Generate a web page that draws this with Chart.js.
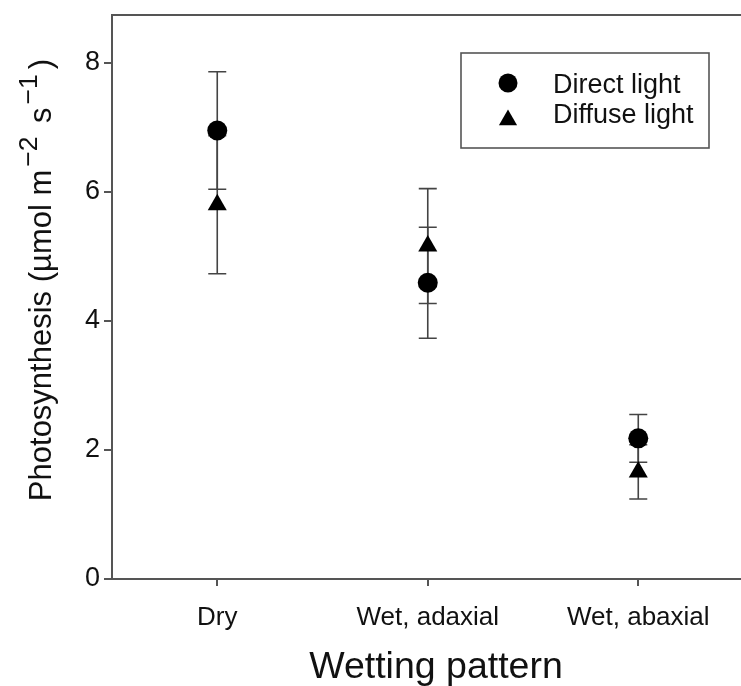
<!DOCTYPE html>
<html lang="en">
<head>
    <meta charset="UTF-8">
    <title>Photosynthesis by wetting pattern</title>
    <script src="https://cdn.jsdelivr.net/npm/chart.js"></script>
    <style>
        body {
            margin: 0;
            background: #ffffff;
        }
        .chart-container {
            width: 741px;
            height: 686px;
        }
    </style>
</head>
<body>
    <div class="chart-container">
        <canvas id="chart" width="741" height="686"></canvas>
    </div>

    <script>
        // Values
        const categories = ['Dry', 'Wet, adaxial', 'Wet, abaxial'];
        const directMean = [6.95, 4.59, 2.18];
        const directErr = [0.91, 0.86, 0.37];
        const diffuseMean = [5.80, 5.16, 1.66];
        const diffuseErr = [1.07, 0.89, 0.42];
        const yTicks = [0, 2, 4, 6, 8];

        const FONT = "'Liberation Sans', Arial, sans-serif";
        const AXIS_COLOR = '#555555';

        // Error bars under the markers, through the chart scales
        const errorBars = {
            id: 'errorBars',
            beforeDatasetsDraw(chart) {
                const ctx = chart.ctx;
                const xs = chart.scales.x;
                const ys = chart.scales.y;
                ctx.save();
                ctx.strokeStyle = '#444444';
                ctx.lineWidth = 1.6;
                chart.data.datasets.forEach(ds => {
                    ds.data.forEach((p, i) => {
                        const e = ds.errors[i];
                        const x = xs.getPixelForValue(p.x);
                        const yTop = ys.getPixelForValue(p.y + e);
                        const yBot = ys.getPixelForValue(p.y - e);
                        ctx.beginPath();
                        ctx.moveTo(x, yTop);
                        ctx.lineTo(x, yBot);
                        ctx.moveTo(x - 9, yTop);
                        ctx.lineTo(x + 9, yTop);
                        ctx.moveTo(x - 9, yBot);
                        ctx.lineTo(x + 9, yBot);
                        ctx.stroke();
                    });
                });
                ctx.restore();
            }
        };

        // Frame top line, axis titles and the boxed legend
        const decorations = {
            id: 'decorations',
            afterDraw(chart) {
                const ctx = chart.ctx;
                const area = chart.chartArea;
                ctx.save();

                // top frame line
                ctx.strokeStyle = AXIS_COLOR;
                ctx.lineWidth = 2;
                ctx.beginPath();
                ctx.moveTo(area.left - 1, area.top);
                ctx.lineTo(chart.width, area.top);
                ctx.stroke();

                // x title
                ctx.fillStyle = '#111111';
                ctx.font = '37.5px ' + FONT;
                ctx.textAlign = 'center';
                ctx.textBaseline = 'alphabetic';
                ctx.fillText('Wetting pattern', 436, 678);

                // y title with superscripts: [text, size, raise, gapAfter]
                const parts = [
                    ['Photosynthesis (\u00b5mol m', 31, 0, 3],
                    ['\u22122', 26.5, 14, 5],
                    [' s', 31, 0, 3],
                    ['\u22121', 26.5, 14, 5],
                    [')', 31, 0, 0]
                ];
                let total = 0;
                parts.forEach(p => {
                    ctx.font = p[1] + 'px ' + FONT;
                    total += ctx.measureText(p[0]).width + p[3];
                });
                ctx.translate(51, 280);
                ctx.rotate(-Math.PI / 2);
                ctx.textAlign = 'left';
                let pos = -total / 2;
                parts.forEach(p => {
                    ctx.font = p[1] + 'px ' + FONT;
                    ctx.fillText(p[0], pos, -p[2]);
                    pos += ctx.measureText(p[0]).width + p[3];
                });
                ctx.setTransform(1, 0, 0, 1, 0, 0);

                // legend
                ctx.strokeStyle = AXIS_COLOR;
                ctx.lineWidth = 1.6;
                ctx.strokeRect(461, 53, 248, 95);
                ctx.fillStyle = '#000000';
                ctx.beginPath();
                ctx.arc(508, 83, 9.5, 0, Math.PI * 2);
                ctx.fill();
                const r = 10.5;
                ctx.beginPath();
                ctx.moveTo(508, 120 - r);
                ctx.lineTo(508 + r * Math.sin(2 * Math.PI / 3), 120 + r / 2);
                ctx.lineTo(508 - r * Math.sin(2 * Math.PI / 3), 120 + r / 2);
                ctx.closePath();
                ctx.fill();
                ctx.fillStyle = '#111111';
                ctx.font = '27px ' + FONT;
                ctx.textAlign = 'left';
                chart.data.datasets.forEach((ds, i) => {
                    ctx.fillText(ds.label, 553, 93 + i * 30);
                });
                ctx.restore();
            }
        };

        const ctx = document.getElementById('chart').getContext('2d');
        const chart = new Chart(ctx, {
            type: 'scatter',
            data: {
                datasets: [
                    {
                        label: 'Direct light',
                        data: directMean.map((v, i) => ({ x: i, y: v })),
                        errors: directErr,
                        pointStyle: 'circle',
                        pointRadius: 10,
                        pointHoverRadius: 10,
                        backgroundColor: '#000000',
                        borderColor: '#000000',
                        borderWidth: 0
                    },
                    {
                        label: 'Diffuse light',
                        data: diffuseMean.map((v, i) => ({ x: i, y: v })),
                        errors: diffuseErr,
                        pointStyle: 'triangle',
                        pointRadius: 11,
                        pointHoverRadius: 11,
                        backgroundColor: '#000000',
                        borderColor: '#000000',
                        borderWidth: 0
                    }
                ]
            },
            options: {
                responsive: false,
                animation: false,
                layout: {
                    autoPadding: false,
                    padding: { top: 15, right: 0, bottom: 0, left: 0 }
                },
                plugins: {
                    legend: { display: false },
                    tooltip: { enabled: false }
                },
                scales: {
                    x: {
                        type: 'linear',
                        min: -0.5,
                        max: 2.488,
                        afterBuildTicks: scale => {
                            scale.ticks = categories.map((c, i) => ({ value: i }));
                        },
                        afterFit: scale => {
                            scale.height = 107;
                            scale.paddingLeft = 0;
                            scale.paddingRight = 0;
                        },
                        ticks: {
                            callback: v => categories[v],
                            color: '#111111',
                            font: { family: FONT, size: 26 },
                            padding: 16,
                            maxRotation: 0,
                            autoSkip: false
                        },
                        grid: {
                            drawOnChartArea: false,
                            drawTicks: true,
                            tickLength: 7,
                            color: AXIS_COLOR,
                            lineWidth: 2
                        },
                        border: { display: true, color: AXIS_COLOR, width: 2 }
                    },
                    y: {
                        min: 0,
                        max: 8.74,
                        afterBuildTicks: scale => {
                            scale.ticks = yTicks.map(v => ({ value: v }));
                        },
                        afterFit: scale => {
                            scale.width = 112;
                            scale.paddingTop = 0;
                            scale.paddingBottom = 0;
                        },
                        ticks: {
                            color: '#111111',
                            font: { family: FONT, size: 27 },
                            padding: 4
                        },
                        grid: {
                            drawOnChartArea: false,
                            drawTicks: true,
                            tickLength: 8,
                            color: AXIS_COLOR,
                            lineWidth: 2
                        },
                        border: { display: true, color: AXIS_COLOR, width: 2 }
                    }
                }
            },
            plugins: [errorBars, decorations]
        });
    </script>
</body>
</html>
